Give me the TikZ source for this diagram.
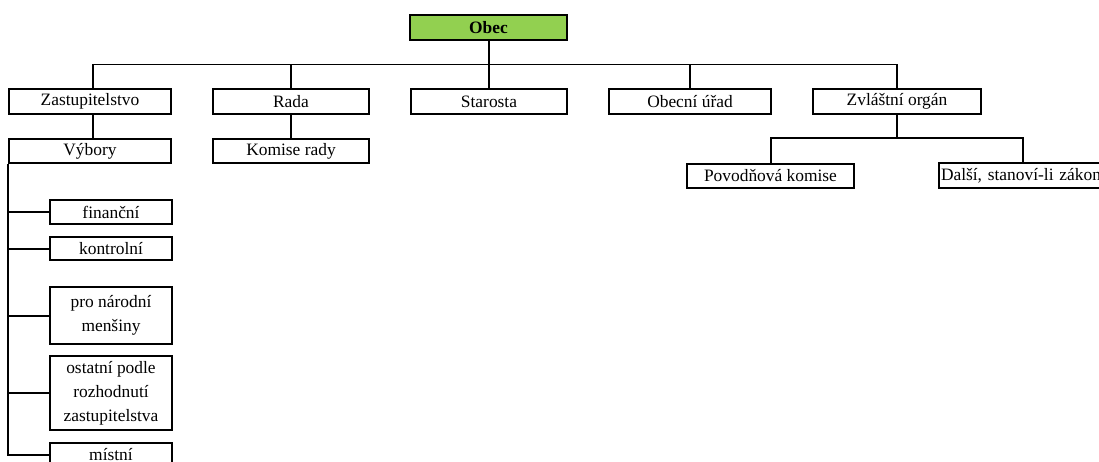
\documentclass[tikz,border=0pt]{standalone}
\usepackage{fontspec}
\setmainfont{Liberation Serif}
\usepackage{xcolor}
\definecolor{obecgreen}{rgb}{0.5725490196,0.8156862745,0.3137254902}
\usetikzlibrary{positioning}
\newcommand{\orgfont}{\fontsize{17.4}{24}\selectfont}

\begin{document}
\begin{tikzpicture}[x=1pt,y=-1pt,
	box/.style={draw,line width=2pt,inner sep=0pt,minimum height=25pt,align=center,font=\orgfont},
	link/.style={line width=2pt},
	bus/.style={line width=1pt}]
	\useasboundingbox (0,0) rectangle (1099,461);
	\clip (0,0) rectangle (1099,461);
	
	\coordinate[] (b1) at (93,64);
	\coordinate[] (b2) at (897,64);
	\coordinate[] (z1) at (770.5,138);
	\coordinate[] (z2) at (1023,138);
	
	\node (obec) at (488.5,27.5)[box,fill=obecgreen,minimum width=157pt,font=\orgfont\bfseries]{Obec};
	\node (zast) at (90,101.5)[box,minimum width=162pt]{Zastupitelstvo};
	\node (rada) at (291,101.5)[box,minimum width=156pt]{Rada};
	\node (starosta) at (489,101.5)[box,minimum width=156pt]{Starosta};
	\node (urad) at (690,101.5)[box,minimum width=162pt]{Obecní úřad};
	\node (organ) at (897,101.5)[box,minimum width=168pt]{Zvláštní orgán};
	\node (vybory) at (90,151)[box,minimum width=162pt,minimum height=24pt]{Výbory};
	\node (komise) at (291,151)[box,minimum width=156pt,minimum height=24pt]{Komise rady};
	\node (povod) at (770.5,176)[box,minimum width=167pt,minimum height=24pt]{Povodňová komise};
	\node (dalsi) at (1023,175.5)[box,minimum width=168pt,inner xsep=2pt,text width=164pt,align=left]{Další, stanoví-li zákon};
	
	\node (financni) at (111,212)[box,minimum width=122pt,minimum height=24pt]{finanční};
	\node (kontrolni) at (111,248.5)[box,minimum width=122pt,minimum height=23pt]{kontrolní};
	\node (narodni) at (111,315.5)[box,minimum width=122pt,minimum height=57pt]{pro národní\\menšiny};
	\node (ostatni) at (111,393)[box,minimum width=122pt,minimum height=74pt]{ostatní podle\\rozhodnutí\\zastupitelstva};
	\node (mistni) at (111,455)[box,minimum width=122pt,minimum height=24pt]{místní};
	
	\draw[bus](b1)--(b2);
	\draw[link](obec.south)--(obec.south |- b1);
	\draw[link](b1)--(zast.north -| b1);
	\draw[link](rada.north |- b1)--(rada.north);
	\draw[link](starosta.north |- b1)--(starosta.north);
	\draw[link](urad.north |- b1)--(urad.north);
	\draw[link](organ.north |- b1)--(organ.north);
	
	\draw[link](zast.south -| b1)--(vybory.north -| b1);
	\draw[link](rada.south)--(komise.north);
	
	\draw[link](organ.south)--(organ.south |- z1);
	\draw[link](povod.north)|-(z2)--(dalsi.north);
	
	\draw[link](vybory.south west)--(vybory.south west |- mistni.west)--(mistni.west);
	\draw[link](vybory.south west |- financni.west)--(financni.west);
	\draw[link](vybory.south west |- kontrolni.west)--(kontrolni.west);
	\draw[link](vybory.south west |- narodni.west)--(narodni.west);
	\draw[link](vybory.south west |- ostatni.west)--(ostatni.west);
\end{tikzpicture}
\end{document}
